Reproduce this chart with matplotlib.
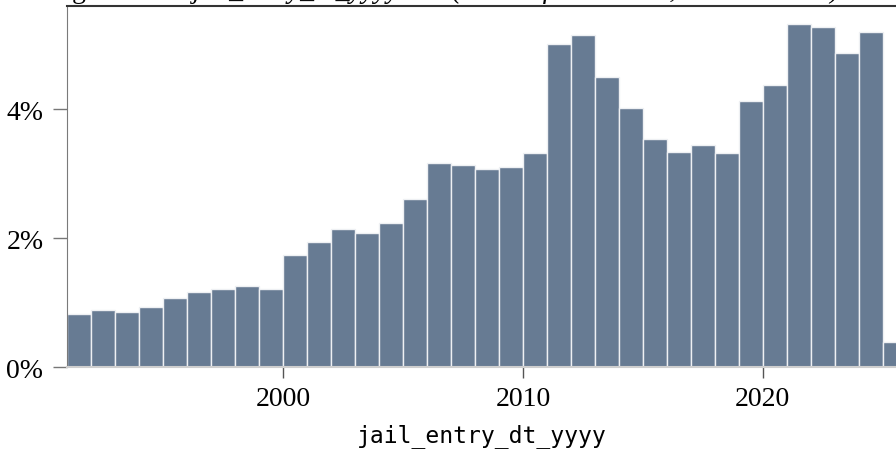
import matplotlib.pyplot as plt
import numpy as np

years = list(range(1991, 2026))
share_pct = [0.82, 0.89, 0.85, 0.93, 1.07, 1.16, 1.21, 1.26, 1.21, 1.73,
             1.94, 2.14, 2.08, 2.23, 2.60, 3.16, 3.13, 3.07, 3.10, 3.32,
             5.01, 5.15, 4.50, 4.02, 3.53, 3.33, 3.44, 3.32, 4.12, 4.38,
             5.32, 5.27, 4.87, 5.19, 0.39]
y_ticks = [0, 2, 4]
y_tick_labels = ["0%", "2%", "4%"]
x_ticks = [2000, 2010, 2020]

serif = "Liberation Serif"
mono = "DejaVu Sans Mono"

fig = plt.figure(figsize=(8.96, 4.52), dpi=100)
ax = fig.add_axes([67 / 896, 1 - 368 / 452, 1 - 67 / 896, 361 / 452])

ax.bar(years, share_pct, width=1.0, align="edge", color="#677b93",
       edgecolor="#eef0f3", linewidth=1.0)

ax.set_xlim(1991, 2025.55)
ax.set_ylim(0, 5.6)

ax.set_yticks(y_ticks)
ax.set_yticklabels(y_tick_labels, fontfamily=serif, fontsize=20)
ax.set_xticks(x_ticks)
ax.set_xticklabels([str(t) for t in x_ticks], fontfamily=serif, fontsize=20)

ax.tick_params(axis="y", length=10, width=1, color="#777777", pad=7)
ax.tick_params(axis="x", length=8, width=1, color="#555555", pad=6)

ax.spines["right"].set_visible(False)
ax.spines["left"].set_color("#7a7a7a")
ax.spines["bottom"].set_color("#cfcfcf")
ax.spines["bottom"].set_linewidth(1.5)
ax.spines["top"].set_color("#333333")
ax.spines["top"].set_linewidth(1.5)

ax.set_xlabel("jail_entry_dt_yyyy", fontfamily=mono, fontsize=16.6, labelpad=8)

# title sits above the visible area, only descenders peek in
ty = 1 + 2 / 452
fig.text(12 / 896, ty, "Histogram of", fontfamily=serif, fontsize=20,
         va="baseline", ha="left")
fig.text(193 / 896, ty, "jail_entry_dt_yyyy", fontfamily=serif, fontsize=20,
         va="baseline", ha="left", style="italic")
fig.text(452 / 896, ty, "(share of all entries, 1991 to 2025)", fontfamily=serif,
         fontsize=20, va="baseline", ha="left", style="italic")

fig.savefig("out.png", dpi=100)
